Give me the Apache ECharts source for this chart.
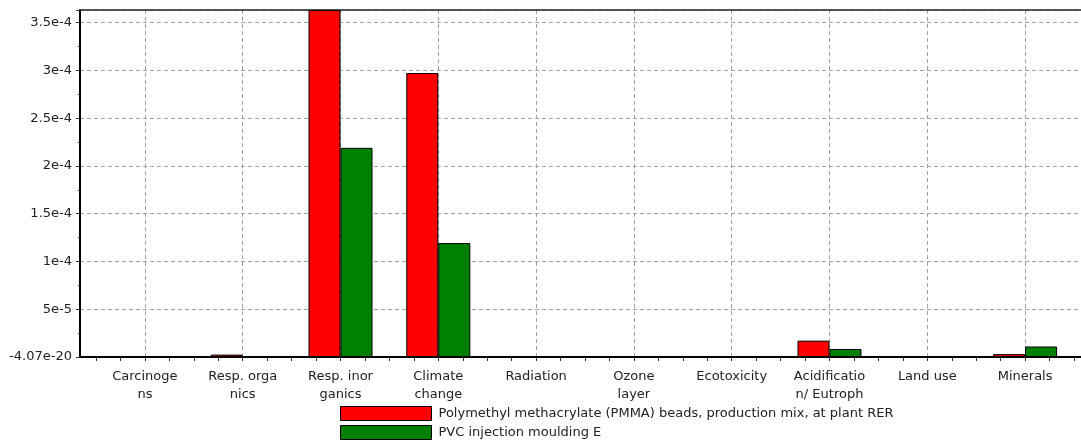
<!DOCTYPE html>
<html>
<head>
<meta charset="utf-8">
<script src="https://cdn.jsdelivr.net/npm/echarts@6/dist/echarts.min.js"></script>
<style>
html,body{margin:0;padding:0;background:#fff;}
#chart{width:1081px;height:443px;}
</style>
</head>
<body>
<div id="chart"></div>
<script>
const categories = ["Carcinoge\nns","Resp. orga\nnics","Resp. inor\nganics","Climate\nchange","Radiation","Ozone\nlayer","Ecotoxicity","Acidificatio\nn/ Eutroph","Land use","Minerals"];
const seriesNames = ["Polymethyl methacrylate (PMMA) beads, production mix, at plant RER","PVC injection moulding E"];
const pmmaValues = [0, 2.5e-6, 3.633e-4, 2.973e-4, 0, 0, 0, 1.71e-5, 0, 3.0e-6];
const pvcValues  = [0, 0, 2.19e-4, 1.193e-4, 0, 0, 0, 8.4e-6, 0, 1.1e-5];
const yTickLabels = ["-4.07e-20","5e-5","1e-4","1.5e-4","2e-4","2.5e-4","3e-4","3.5e-4"];
const yMax = 3.633e-4;
const yInterval = 5e-5;

const font = "DejaVu Sans";
const chart = echarts.init(document.getElementById('chart'), null, {renderer:'canvas'});
const dash = {color:'#a0a0a0', width:1, type:[4,3]};
chart.setOption({
  animation:false,
  backgroundColor:'#fff',
  textStyle:{fontFamily:font},
  grid:[
    {left:80, top:10, width:1010, height:347},
    {left:96, top:10, width:978, height:347}
  ],
  xAxis:[
    {gridIndex:0, type:'value', min:0, max:1, position:'bottom',
     axisLine:{show:true, onZero:false, lineStyle:{color:'#000', width:2}},
     axisTick:{show:false}, axisLabel:{show:false}, splitLine:{show:false}},
    {gridIndex:0, type:'value', min:0, max:1, position:'top',
     axisLine:{show:true, onZero:false, lineStyle:{color:'#222', width:1.5}},
     axisTick:{show:false}, axisLabel:{show:false}, splitLine:{show:false}},
    {gridIndex:1, type:'category', data:categories, position:'bottom', boundaryGap:true,
     axisLine:{show:false}, axisTick:{show:false},
     axisLabel:{show:true, interval:0, margin:11, color:'#222', fontSize:13, lineHeight:18, fontFamily:font},
     splitLine:{show:true, interval:0, alignWithLabel:true, lineStyle:dash}},
    {gridIndex:1, type:'value', min:0, max:10, interval:0.25, position:'bottom',
     axisLine:{show:false, onZero:false},
     axisTick:{show:true, inside:false, length:4, lineStyle:{color:'#333'}},
     axisLabel:{show:false}, splitLine:{show:false}}
  ],
  yAxis:[
    {gridIndex:0, type:'value', min:0, max:yMax, interval:yInterval,
     axisLine:{show:true, onZero:false, lineStyle:{color:'#000', width:2}},
     axisTick:{show:true, length:4, lineStyle:{color:'#333'}},
     minorTick:{show:true, splitNumber:2, length:2, lineStyle:{color:'#333'}},
     axisLabel:{show:true, margin:8, color:'#222', fontSize:13, fontFamily:font,
       formatter:(v,i)=> (yTickLabels[i] !== undefined ? yTickLabels[i] : '')},
     splitLine:{show:true, lineStyle:dash}},
    {gridIndex:1, type:'value', min:0, max:yMax, interval:yInterval, show:false}
  ],
  legend:{
    orient:'vertical', left:340, top:406, padding:0, itemWidth:91, itemHeight:14, itemGap:4,
    icon:'rect',
    itemStyle:{borderColor:'#000', borderWidth:1},
    textStyle:{color:'#222', fontSize:13, fontFamily:font, padding:[0,0,0,2]},
    data:seriesNames
  },
  series:[
    {name:seriesNames[0], type:'bar', xAxisIndex:2, yAxisIndex:1, data:pmmaValues,
     barWidth:32, barGap:'0%',
     itemStyle:{color:'#ff0000', borderColor:'#000', borderWidth:1}},
    {name:seriesNames[1], type:'bar', xAxisIndex:2, yAxisIndex:1, data:pvcValues,
     barWidth:32, barGap:'0%',
     itemStyle:{color:'#008000', borderColor:'#000', borderWidth:1}}
  ]
});
</script>
</body>
</html>
